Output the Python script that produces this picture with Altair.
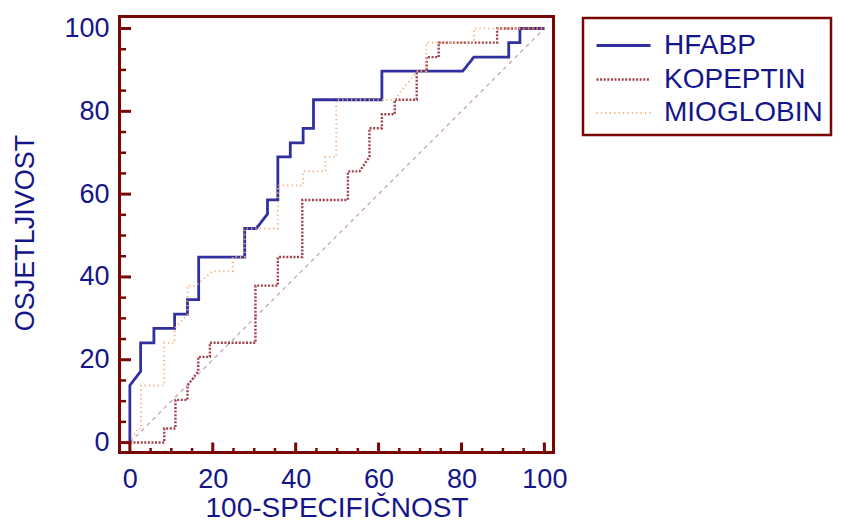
import altair as alt
import pandas as pd

# ---- data ----
series_names = ["HFABP", "KOPEPTIN", "MIOGLOBIN"]

hfabp_x = [0, 0, 2.6, 2.6, 5.8, 5.8, 10.8, 10.8, 13.9, 13.9, 16.6, 16.6, 27.7, 27.7, 30.5, 33.2, 33.2,
           35.7, 35.7, 38.7, 38.7, 41.8, 41.8, 44.3, 44.3, 60.8, 60.8, 80.3, 83.0, 91.4, 91.4, 94.1, 94.1, 100]
hfabp_y = [0, 13.8, 17.2, 24.1, 24.1, 27.6, 27.6, 31.0, 31.0, 34.5, 34.5, 44.8, 44.8, 51.7, 51.7, 55.2, 58.6,
           58.6, 69.0, 69.0, 72.4, 72.4, 75.9, 75.9, 82.8, 82.8, 89.7, 89.7, 93.1, 93.1, 96.6, 96.6, 100, 100]

kopeptin_x = [0, 8.3, 8.3, 11.0, 11.0, 13.9, 13.9, 16.5, 16.5, 19.3, 19.3, 30.3, 30.3, 35.7, 35.7, 41.6, 41.6,
              52.6, 52.6, 55.4, 57.8, 57.8, 60.8, 60.8, 63.9, 63.9, 69.2, 69.2, 71.6, 71.6, 74.5, 74.5, 88.6, 88.6, 100]
kopeptin_y = [0, 0, 3.4, 3.4, 10.3, 10.3, 13.8, 17.2, 20.7, 20.7, 24.1, 24.1, 37.9, 37.9, 44.8, 44.8, 58.6,
              58.6, 65.5, 65.5, 69.0, 75.9, 75.9, 79.3, 79.3, 82.8, 82.8, 89.7, 89.7, 93.1, 93.1, 96.6, 96.6, 100, 100]

mioglobin_x = [0, 1.9, 2.7, 2.7, 8.3, 8.3, 10.8, 10.8, 13.9, 13.9, 15.9, 20.0, 24.8, 24.8, 27.7, 27.7, 33.0,
               35.7, 35.7, 41.8, 41.8, 47.2, 47.2, 49.8, 49.8, 63.9, 66.5, 69.4, 71.5, 71.5, 83.0, 83.0, 100]
mioglobin_y = [0, 3.4, 3.4, 13.8, 13.8, 24.1, 24.1, 27.6, 31.0, 37.9, 37.9, 41.4, 41.4, 44.8, 44.8, 51.7, 51.7,
               51.7, 62.1, 62.1, 65.5, 65.5, 69.0, 69.0, 82.8, 82.8, 86.2, 89.7, 89.7, 96.6, 96.6, 100, 100]

diag_x = [0, 100]
diag_y = [0, 100]

label_values = [0, 20, 40, 60, 80, 100]
tick_values = list(range(0, 101, 5))      # minor every 5, major every 20

# ---- styling ----
NAVY = "#15158a"
MAROON = "#7a0505"
FONT = "Liberation Sans"
W, H = 434, 436
X_DOM = [-2.5, 102.2]
Y_DOM = [-2.4, 102.9]
PX_X = W / (X_DOM[1] - X_DOM[0])
PX_Y = H / (Y_DOM[1] - Y_DOM[0])

rows = []
for name, xs, ys in [("HFABP", hfabp_x, hfabp_y), ("KOPEPTIN", kopeptin_x, kopeptin_y),
                     ("MIOGLOBIN", mioglobin_x, mioglobin_y)]:
    for i, (xv, yv) in enumerate(zip(xs, ys)):
        rows.append({"series": name, "x": xv, "y": yv, "order": i})
df = pd.DataFrame(rows)

# tick marks as bars (rect marks) spanning from the frame inward
tick_rows = []
for v in tick_values:
    major = v % 20 == 0
    xlen = (10 if major else 4.5) / PX_Y
    ylen = (11.5 if major else 6.5) / PX_X
    wx = (3 if major else 2.5) / PX_X / 2
    wy = (3 if major else 2.5) / PX_Y / 2
    tick_rows.append({"x0": v - wx, "x1": v + wx, "y0": Y_DOM[0], "y1": Y_DOM[0] + xlen})
    tick_rows.append({"x0": X_DOM[0], "x1": X_DOM[0] + ylen, "y0": v - wy, "y1": v + wy})
ticks_df = pd.DataFrame(tick_rows)

xscale = alt.Scale(domain=X_DOM, nice=False, zero=False)
yscale = alt.Scale(domain=Y_DOM, nice=False, zero=False)

x_axis = alt.Axis(values=label_values, ticks=False, tickSize=0, domain=False, grid=False,
                  labelFontSize=27, labelColor=NAVY, labelFont=FONT, labelPadding=14,
                  title="100-SPECIFIČNOST", titleFontSize=28, titleColor=NAVY, titleFont=FONT,
                  titleFontWeight="normal", titleX=217, titleY=64, titleBaseline="alphabetic",
                  titleAlign="center")
y_axis = alt.Axis(values=label_values, ticks=False, tickSize=0, domain=False, grid=False,
                  labelFontSize=27, labelColor=NAVY, labelFont=FONT, labelPadding=10.5,
                  title="OSJETLJIVOST", titleFontSize=27, titleColor=NAVY, titleFont=FONT,
                  titleFontWeight="normal", titleX=-86, titleY=216, titleAngle=270,
                  titleBaseline="alphabetic", titleAlign="center")

ticks = alt.Chart(ticks_df).mark_rect(color=MAROON).encode(
    x=alt.X("x0:Q", scale=xscale, axis=x_axis),
    x2="x1:Q",
    y=alt.Y("y0:Q", scale=yscale, axis=y_axis),
    y2="y1:Q",
)

diag = alt.Chart(pd.DataFrame({"x": diag_x, "y": diag_y})).mark_line(
    color="#c9a2b6", strokeWidth=1.3, strokeDash=[4, 4]
).encode(
    x=alt.X("x:Q", scale=xscale, axis=x_axis),
    y=alt.Y("y:Q", scale=yscale, axis=y_axis),
)

legend_common = dict(orient="none", legendX=463.5, legendY=1.5, title=None,
                     symbolType="M-1.5,0H1.5", symbolSize=1296, symbolStrokeWidth=2.5,
                     symbolOffset=13, labelFontSize=28, labelColor=NAVY, labelFont=FONT,
                     strokeColor=MAROON, fillColor="white", padding=8,
                     rowPadding=-3.5, labelOffset=21)

lines = alt.Chart(df).mark_line(interpolate="linear").encode(
    x=alt.X("x:Q", scale=xscale, axis=x_axis),
    y=alt.Y("y:Q", scale=yscale, axis=y_axis),
    color=alt.Color("series:N",
                    scale=alt.Scale(domain=series_names, range=["#3030a0", "#a0404a", "#f6ae7a"]),
                    legend=alt.Legend(**legend_common)),
    strokeDash=alt.StrokeDash("series:N",
                              scale=alt.Scale(domain=series_names, range=[[1, 0], [2, 1.6], [1.2, 3.2]]),
                              legend=alt.Legend(**legend_common)),
    strokeWidth=alt.StrokeWidth("series:N",
                                scale=alt.Scale(domain=series_names, range=[2.8, 2.0, 2.0]),
                                legend=None),
    order="order:Q",
)

chart = alt.layer(
    diag,
    lines,
    ticks,
).properties(
    width=W, height=H,
    autosize=alt.AutoSizeParams(type="none"),
    padding={"left": 111.5, "top": 8.5, "right": 279, "bottom": 70},
).configure_view(
    stroke=MAROON, strokeWidth=3
).configure_legend(
    strokeWidth=2.5
)

chart.save("out.html", embed_options={"renderer": "svg", "actions": False})
